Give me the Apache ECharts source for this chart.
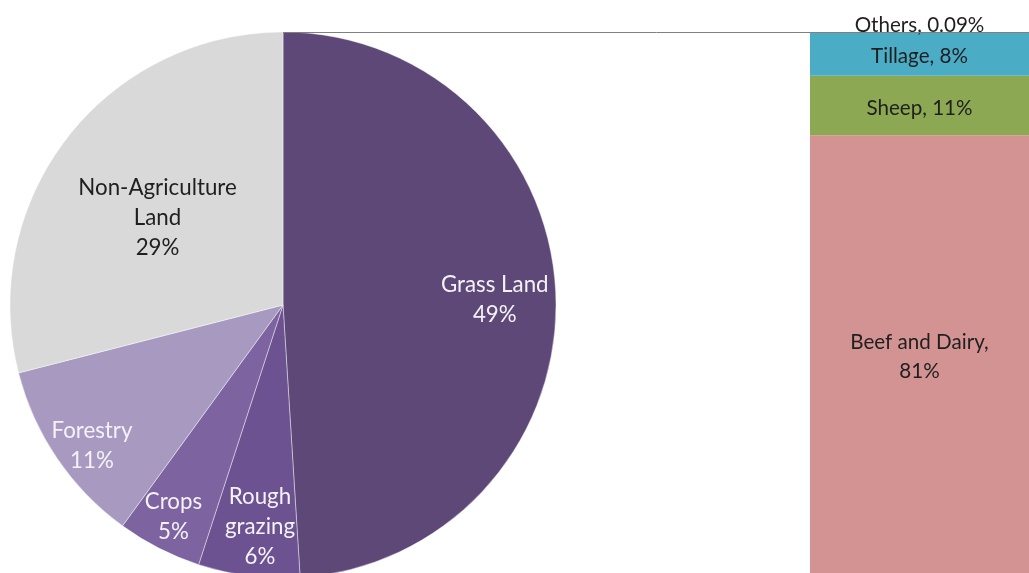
<!DOCTYPE html>
<html>
<head>
<meta charset="utf-8">
<style>
  html, body { margin: 0; padding: 0; background: #ffffff; }
  #chart { width: 1029px; height: 573px; }
</style>
<script src="https://cdn.jsdelivr.net/npm/echarts@6/dist/echarts.min.js"></script>
</head>
<body>
<div id="chart"></div>
<script>
// Land use split (pie)
const landNames = ['Grass Land', 'Rough\ngrazing', 'Crops', 'Forestry', 'Non-Agriculture\nLand'];
const landValues = [49, 6, 5, 11, 29];

// Grass land use breakdown (stacked bar, bottom to top)
const useNames = ['Beef and Dairy', 'Sheep', 'Tillage', 'Others'];
const useValues = [81, 11, 8, 0.09];

// Styling
const landColors = ['#5E4878', '#6D5292', '#7E63A1', '#A899C1', '#D9D9D9'];
const landTextColors = ['#F4F2F7', '#F4F2F7', '#F4F2F7', '#F4F2F7', '#1F1F1F'];
const labelRadius = [0.765, 0.807, 0.864, 0.858, 0.549];  // label distance from centre, fraction of radius
const labelTurn = [0.4, -1.3, 0.3, -2.2, -3.0];           // label angle offset from slice middle, degrees
const useColors = ['#D39393', '#8CA852', '#4BACC6', '#8C8C8C'];

const FONT = 'Lato';
const CX = 283, CY = 305, R = 273;
const BAR_LEFT = 810, BAR_WIDTH = 232, BAR_TOP = CY - R, BAR_HEIGHT = 2 * R;

const total = landValues.reduce((a, b) => a + b, 0);
const midAngles = [];
let acc = 0;
landValues.forEach(v => {
  midAngles.push((acc + v / 2) / total * 2 * Math.PI);
  acc += v;
});

const useTotal = useValues.reduce((a, b) => a + b, 0);

const chart = echarts.init(document.getElementById('chart'), null, { renderer: 'canvas' });

const barSeries = useNames.map((name, i) => {
  const isTop = i === useNames.length - 1;
  return {
    type: 'bar',
    name: name,
    stack: 'use',
    barWidth: '100%',
    data: [useValues[i]],
    itemStyle: { color: useColors[i] },
    silent: true,
    label: {
      show: true,
      position: isTop ? 'top' : 'inside',
      distance: 0,
      offset: [0, isTop ? 3 : 2.5],
      color: '#1F1F1F',
      fontFamily: FONT,
      fontSize: 20.6,
      lineHeight: isTop ? 20 : 29,
      formatter: p => (i === 0 ? p.seriesName + ',\n' : p.seriesName + ', ') + p.value + '%'
    }
  };
});

chart.setOption({
  animation: false,
  backgroundColor: '#ffffff',
  grid: { left: BAR_LEFT, top: BAR_TOP, width: BAR_WIDTH, height: BAR_HEIGHT, containLabel: false },
  xAxis: { type: 'category', data: ['use'], show: false, boundaryGap: true },
  yAxis: { type: 'value', min: 0, max: useTotal, show: false },
  graphic: [{
    type: 'line',
    silent: true,
    z: 10,
    shape: { x1: CX, y1: CY - R + 0.5, x2: BAR_LEFT + BAR_WIDTH, y2: CY - R + 0.5 },
    style: { stroke: '#808080', lineWidth: 1 }
  }],
  series: [{
    type: 'pie',
    center: [CX, CY],
    radius: R,
    startAngle: 90,
    clockwise: true,
    silent: true,
    avoidLabelOverlap: false,
    data: landNames.map((n, i) => ({
      name: n,
      value: landValues[i],
      itemStyle: { color: landColors[i] },
      label: { color: landTextColors[i] }
    })),
    itemStyle: { borderColor: 'rgba(255,255,255,0.6)', borderWidth: 0.7 },
    label: {
      show: true,
      position: 'inside',
      fontFamily: FONT,
      fontSize: 22.3,
      lineHeight: 30,
      align: 'center',
      formatter: p => p.name + '\n' + p.value + '%'
    },
    labelLine: { show: false },
    labelLayout: params => {
      const i = params.dataIndex;
      const m = midAngles[i];
      const a = m + labelTurn[i] * Math.PI / 180;
      const r = labelRadius[i] * R;
      // default inside label sits at half radius on the slice middle
      const dx = r * Math.sin(a) - 0.5 * R * Math.sin(m);
      const dy = -r * Math.cos(a) + 0.5 * R * Math.cos(m);
      return { dx: dx, dy: dy };
    }
  }].concat(barSeries)
});
</script>
</body>
</html>
